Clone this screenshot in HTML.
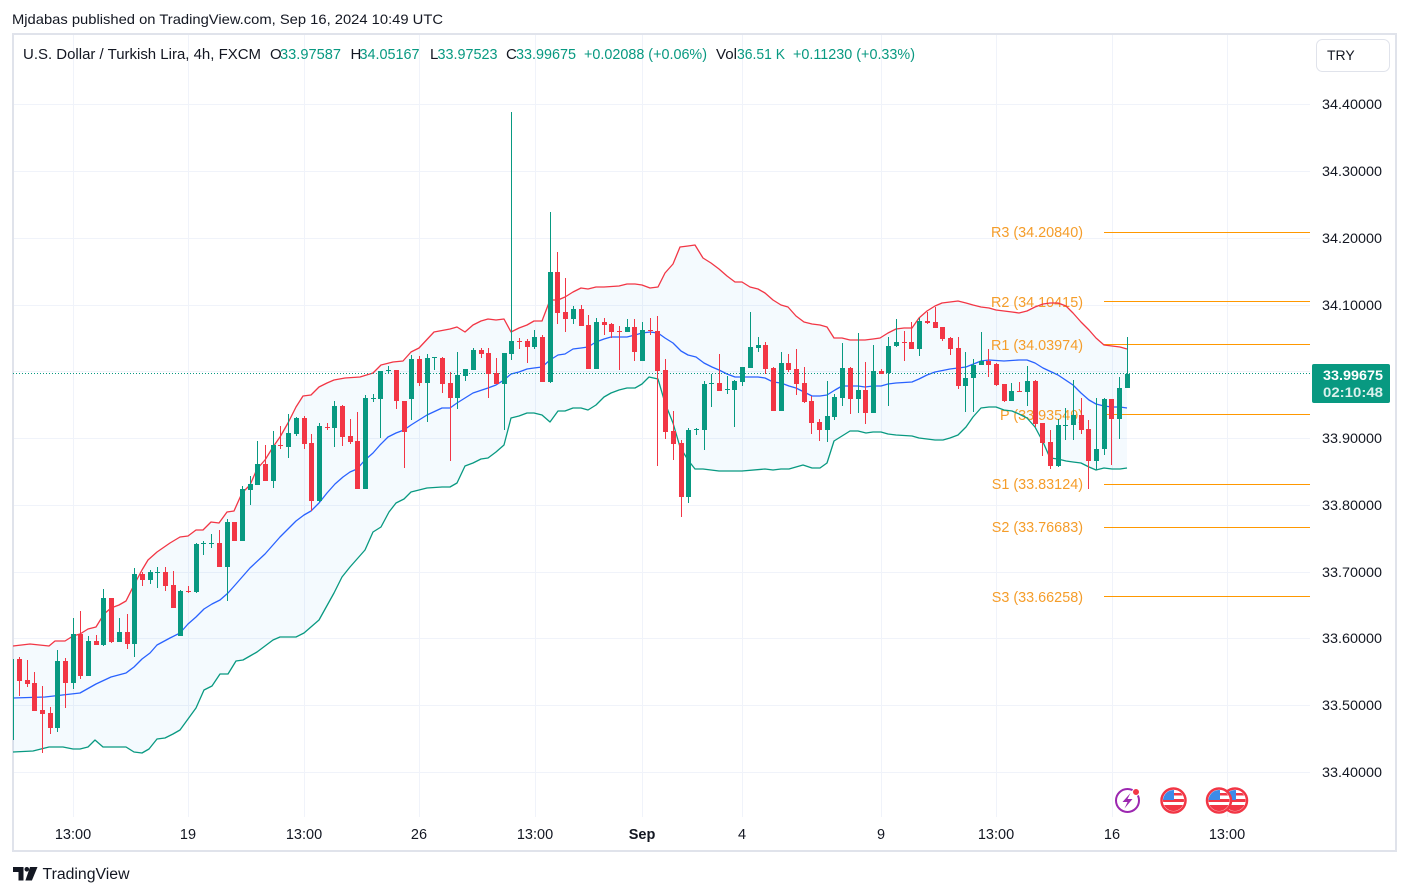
<!DOCTYPE html>
<html><head><meta charset="utf-8"><style>
html,body{margin:0;padding:0;background:#fff;}
svg{display:block;}
text{font-family:"Liberation Sans",Arial,sans-serif;}
</style></head><body>
<svg width="1409" height="896" viewBox="0 0 1409 896" xmlns="http://www.w3.org/2000/svg">
<defs>
<clipPath id="pane"><rect x="13" y="35" width="1297" height="782"/></clipPath>
<clipPath id="f1"><circle cx="1173.5" cy="800.5" r="10.5"/></clipPath>
<clipPath id="f2"><circle cx="1219" cy="800.5" r="10.5"/></clipPath>
<clipPath id="f3"><circle cx="1235" cy="800.5" r="10.5"/></clipPath>
</defs>
<rect width="1409" height="896" fill="#fff"/>

<text x="12" y="24" font-size="14" fill="#131722" textLength="431" lengthAdjust="spacingAndGlyphs">Mjdabas published on TradingView.com, Sep 16, 2024 10:49 UTC</text>

<!-- grid -->
<g stroke="#f0f3fa" stroke-width="1">
<path d="M13 104.5H1310M13 171.5H1310M13 238.5H1310M13 305.5H1310M13 371.5H1310M13 438.5H1310M13 505.5H1310M13 572.5H1310M13 638.5H1310M13 705.5H1310M13 772.5H1310"/>
<path d="M73.5 35V817M188.5 35V817M304.5 35V817M419.5 35V817M535.5 35V817M642.5 35V817M742.5 35V817M881.5 35V817M996.5 35V817M1112.5 35V817M1227.5 35V817"/>
</g>

<!-- frame -->
<rect x="13" y="34" width="1383" height="817" fill="none" stroke="#e0e3eb" stroke-width="2"/>

<!-- header -->
<g font-size="15" fill="#131722">
<text x="23" y="59" textLength="238" lengthAdjust="spacingAndGlyphs">U.S. Dollar / Turkish Lira, 4h, FXCM</text>
<text x="270" y="59">O</text>
<text x="280" y="59" fill="#089981" textLength="61" lengthAdjust="spacingAndGlyphs">33.97587</text>
<text x="350.5" y="59">H</text>
<text x="359.5" y="59" fill="#089981" textLength="60" lengthAdjust="spacingAndGlyphs">34.05167</text>
<text x="430" y="59">L</text>
<text x="437.5" y="59" fill="#089981" textLength="60" lengthAdjust="spacingAndGlyphs">33.97523</text>
<text x="506" y="59">C</text>
<text x="516" y="59" fill="#089981" textLength="60" lengthAdjust="spacingAndGlyphs">33.99675</text>
<text x="584" y="59" fill="#089981" textLength="123" lengthAdjust="spacingAndGlyphs">+0.02088 (+0.06%)</text>
<text x="716" y="59" textLength="21" lengthAdjust="spacingAndGlyphs">Vol</text>
<text x="737" y="59" fill="#089981" textLength="48" lengthAdjust="spacingAndGlyphs">36.51 K</text>
<text x="793" y="59" fill="#089981" textLength="122" lengthAdjust="spacingAndGlyphs">+0.11230 (+0.33%)</text>
</g>

<!-- TRY button -->
<rect x="1316.5" y="39.5" width="73" height="32" rx="6" fill="#fff" stroke="#e0e3eb"/>
<text x="1327" y="60" font-size="14" fill="#131722">TRY</text>

<g clip-path="url(#pane)">
<!-- band fill -->
<polygon fill="#2196f3" fill-opacity="0.05" points="13,646 30,644 49,646 55,641 65,641 73,636 80,634 88,629 96,627 104,614 111,608 119,605 126,601 134,585 142,570 148,560 157,552 170,543 180,537 188,536 196,530 203,530 211,522 219,523 227,512 234,511 242,493 250,485 257,469 265,460 273,447 280,437 288,423 296,407 303,396 311,395 319,387 327,383 334,380 345,378 360,377 373,373 381,365 393,362 403,361 411,352 419,348 434,332 450,329 457,327 465,332 473,325 481,321 488,319 496,320 504,319 511,332 519,328 527,325 534,321 542,321 550,300 558,300 565,297 573,292 581,288 588,289 596,287 604,287 619,286 627,284 635,284 642,285 650,288 658,287 665,273 673,264 680,247 688,246 695,245 703,258 711,263 719,269 727,276 735,282 742,282 750,287 758,289 765,293 773,300 781,305 788,307 796,316 804,322 812,324 820,325 827,327 834,338 842,338 850,340 858,340 865,340 873,339 880,338 888,333 896,329 904,328 912,328 919,318 927,311 935,306 942,303 950,302 958,301 966,303 973,305 981,307 989,308 996,310 1004,311 1012,312 1019,313 1027,311 1035,307 1043,304 1050,303 1058,303 1066,306 1073,313 1081,322 1089,330 1096,338 1104,345 1112,346 1120,347 1127,349 1127,468 1120,469 1112,469 1104,468 1096,470 1089,467 1081,463 1073,462 1066,461 1058,459 1050,458 1043,442 1035,427 1027,418 1019,414 1012,411 1004,410 996,407 989,407 981,408 973,417 966,427 958,435 950,438 943,440 935,440 919,438 912,436 896,435 888,434 881,432 873,432 866,433 858,431 850,431 842,436 834,441 827,463 820,468 812,468 803,465 789,469 781,469 773,470 765,469 742,471 719,471 703,469 695,469 688,460 680,447 673,423 665,403 658,379 649,377 642,384 635,388 627,388 619,390 611,393 604,397 596,405 588,410 581,408 573,408 565,411 558,411 550,422 542,415 534,413 527,413 519,416 511,418 504,445 496,452 488,458 481,459 473,463 465,466 457,483 450,487 442,487 427,488 411,492 404,499 396,503 389,512 381,527 373,532 365,550 350,567 342,577 334,593 319,620 304,633 296,637 280,637 273,640 265,646 257,652 250,656 243,660 236,661 228,674 220,674 212,686 204,690 196,708 188,719 180,730 173,734 165,738 157,739 149,749 142,753 134,752 126,747 103,747 95,740 88,747 80,749 73,749 63,747 49,747 33,751 13,752"/>

<!-- pivots -->
<g stroke="#ff9800" stroke-width="1">
<path d="M1104 232.5H1310M1104 301.5H1310M1104 344.5H1310M1104 414.5H1310M1104 484.5H1310M1104 527.5H1310M1104 596.5H1310"/>
</g>
<g font-size="14.4" fill="#f59d2a" text-anchor="end">
<text x="1083" y="237">R3 (34.20840)</text>
<text x="1083" y="307">R2 (34.10415)</text>
<text x="1083" y="350">R1 (34.03974)</text>
<text x="1083" y="420">P (33.93549)</text>
<text x="1083" y="489">S1 (33.83124)</text>
<text x="1083" y="532">S2 (33.76683)</text>
<text x="1083" y="602">S3 (33.66258)</text>
</g>

<!-- band lines -->
<polyline fill="none" stroke="#f23645" stroke-width="1.3" stroke-linejoin="round" points="13,646 30,644 49,646 55,641 65,641 73,636 80,634 88,629 96,627 104,614 111,608 119,605 126,601 134,585 142,570 148,560 157,552 170,543 180,537 188,536 196,530 203,530 211,522 219,523 227,512 234,511 242,493 250,485 257,469 265,460 273,447 280,437 288,423 296,407 303,396 311,395 319,387 327,383 334,380 345,378 360,377 373,373 381,365 393,362 403,361 411,352 419,348 434,332 450,329 457,327 465,332 473,325 481,321 488,319 496,320 504,319 511,332 519,328 527,325 534,321 542,321 550,300 558,300 565,297 573,292 581,288 588,289 596,287 604,287 619,286 627,284 635,284 642,285 650,288 658,287 665,273 673,264 680,247 688,246 695,245 703,258 711,263 719,269 727,276 735,282 742,282 750,287 758,289 765,293 773,300 781,305 788,307 796,316 804,322 812,324 820,325 827,327 834,338 842,338 850,340 858,340 865,340 873,339 880,338 888,333 896,329 904,328 912,328 919,318 927,311 935,306 942,303 950,302 958,301 966,303 973,305 981,307 989,308 996,310 1004,311 1012,312 1019,313 1027,311 1035,307 1043,304 1050,303 1058,303 1066,306 1073,313 1081,322 1089,330 1096,338 1104,345 1112,346 1120,347 1127,349"/>
<polyline fill="none" stroke="#2962ff" stroke-width="1.3" stroke-linejoin="round" points="13,698 45,697 80,693 96,684 111,677 126,673 134,667 142,659 150,653 157,645 170,638 180,633 188,624 196,617 204,609 212,604 220,600 228,593 236,584 250,568 265,554 280,537 296,521 304,515 311,511 319,503 327,493 335,484 343,477 350,472 357,469 365,460 373,453 380,445 388,437 396,433 404,430 411,425 427,415 442,408 450,408 457,403 465,398 473,393 488,388 496,385 504,380 511,374 519,372 527,369 534,368 542,367 550,360 558,355 565,354 573,349 581,348 588,347 596,342 604,339 611,337 619,337 627,337 635,335 642,333 650,332 658,333 665,338 673,343 681,351 688,355 696,357 704,363 712,367 719,370 727,374 735,377 742,377 750,377 758,377 765,378 773,382 781,383 789,386 796,388 804,392 812,396 820,396 827,395 835,390 842,386 850,386 858,386 865,387 873,386 881,386 888,384 896,383 912,382 919,379 927,375 935,372 950,369 966,367 981,361 989,360 1004,361 1019,360 1027,360 1035,363 1043,368 1058,375 1073,385 1081,393 1089,400 1096,404 1104,406 1112,407 1120,407 1127,408"/>
<polyline fill="none" stroke="#089981" stroke-width="1.3" stroke-linejoin="round" points="13,752 33,751 49,747 63,747 73,749 80,749 88,747 95,740 103,747 126,747 134,752 142,753 149,749 157,739 165,738 173,734 180,730 188,719 196,708 204,690 212,686 220,674 228,674 236,661 243,660 250,656 257,652 265,646 273,640 280,637 296,637 304,633 319,620 334,593 342,577 350,567 365,550 373,532 381,527 389,512 396,503 404,499 411,492 427,488 442,487 450,487 457,483 465,466 473,463 481,459 488,458 496,452 504,445 511,418 519,416 527,413 534,413 542,415 550,422 558,411 565,411 573,408 581,408 588,410 596,405 604,397 611,393 619,390 627,388 635,388 642,384 649,377 658,379 665,403 673,423 680,447 688,460 695,469 703,469 719,471 742,471 765,469 773,470 781,469 789,469 803,465 812,468 820,468 827,463 834,441 842,436 850,431 858,431 866,433 873,432 881,432 888,434 896,435 912,436 919,438 935,440 943,440 950,438 958,435 966,427 973,417 981,408 989,407 996,407 1004,410 1012,411 1019,414 1027,418 1035,427 1043,442 1050,458 1058,459 1066,461 1073,462 1081,463 1089,467 1096,470 1104,468 1112,469 1120,469 1127,468"/>

<!-- current price line -->
<path d="M13 373.5H1310" stroke="#089981" stroke-width="1" stroke-dasharray="1 2"/>

<!-- red candles -->
<path fill="none" stroke="#f23645" stroke-width="1" d="M19.5 657V696M27.5 660V687M34.5 672V711M42.5 686V753M50.5 707V734M65.5 658V708M80.5 611V679M96.5 635V645M111.5 598V643M127.5 614V649M142.5 572V586M165.5 567V591M173.5 571V608M188.5 586V593M219.5 530V567M234.5 522V541M265.5 445V481M280.5 426V449M304.5 416V449M311.5 434V511M327.5 423V430M342.5 405V446M350.5 419V444M357.5 412V489M396.5 370V409M404.5 401V468M419.5 356V386M442.5 357V393M450.5 372V461M481.5 348V358M488.5 348V398M496.5 358V384M519.5 338V349M527.5 339V363M542.5 335V382M557.5 252V324M565.5 278V332M581.5 305V326M588.5 315V369M604.5 318V335M611.5 323V338M619.5 326V370M634.5 319V361M650.5 318V335M657.5 316V466M665.5 359V439M673.5 411V460M681.5 440V517M719.5 354V391M765.5 342V374M773.5 367V411M788.5 354V372M796.5 349V395M804.5 367V403M811.5 396V434M819.5 419V441M850.5 367V414M865.5 362V424M881.5 369V374M904.5 331V361M911.5 322V349M927.5 312V324M935.5 307V328M942.5 327V341M950.5 337V355M958.5 337V389M988.5 349V377M996.5 363V386M1004.5 384V402M1019.5 382V392M1035.5 380V427M1042.5 423V456M1050.5 430V469M1081.5 398V434M1088.5 420V489M1111.5 399V465"/>
<path fill="#f23645" d="M17 659h5v22h-5zM25 680h5v4h-5zM32 683h5v28h-5zM40 710h5v4h-5zM48 713h5v15h-5zM63 661h5v22h-5zM78 634h5v42h-5zM94 641h5v4h-5zM109 598h5v44h-5zM125 632h5v12h-5zM140 574h5v6h-5zM163 572h5v14h-5zM171 585h5v23h-5zM186 591h5v1h-5zM217 543h5v24h-5zM232 522h5v19h-5zM263 464h5v17h-5zM278 445h5v1h-5zM302 418h5v26h-5zM309 443h5v58h-5zM325 427h5v1h-5zM340 406h5v31h-5zM348 436h5v6h-5zM355 441h5v48h-5zM394 370h5v31h-5zM402 401h5v31h-5zM417 359h5v24h-5zM440 358h5v26h-5zM448 383h5v15h-5zM479 350h5v4h-5zM486 353h5v21h-5zM494 373h5v11h-5zM517 341h5v1h-5zM525 341h5v6h-5zM540 337h5v45h-5zM555 272h5v41h-5zM563 312h5v7h-5zM579 309h5v17h-5zM586 325h5v44h-5zM602 322h5v3h-5zM609 324h5v8h-5zM617 331h5v1h-5zM632 327h5v25h-5zM648 330h5v1h-5zM655 331h5v40h-5zM663 370h5v62h-5zM671 431h5v13h-5zM679 443h5v54h-5zM717 383h5v8h-5zM763 345h5v24h-5zM771 368h5v43h-5zM786 363h5v7h-5zM794 369h5v15h-5zM802 383h5v19h-5zM809 401h5v22h-5zM817 422h5v8h-5zM848 368h5v31h-5zM863 390h5v23h-5zM879 371h5v3h-5zM902 342h5v1h-5zM909 342h5v7h-5zM925 321h5v2h-5zM933 322h5v6h-5zM940 327h5v12h-5zM948 338h5v11h-5zM956 348h5v38h-5zM986 361h5v4h-5zM994 364h5v21h-5zM1002 384h5v17h-5zM1017 391h5v1h-5zM1033 381h5v43h-5zM1040 423h5v20h-5zM1048 442h5v24h-5zM1079 415h5v15h-5zM1086 429h5v32h-5zM1109 399h5v20h-5z"/>

<!-- green candles -->
<path fill="none" stroke="#089981" stroke-width="1" d="M11.5 655V745M57.5 650V732M73.5 618V689M88.5 636V676M103.5 589V646M119.5 618V642M134.5 568V657M150.5 570V584M157.5 567V588M180.5 590V636M196.5 543V593M203.5 541V555M211.5 534V548M227.5 519V601M242.5 486V541M250.5 476V505M257.5 441V485M273.5 431V488M288.5 414V458M296.5 417V436M319.5 423V502M334.5 401V447M365.5 395V489M373.5 394V402M380.5 371V438M388.5 366V373M411.5 355V420M427.5 354V422M434.5 357V370M457.5 352V409M465.5 369V381M473.5 348V370M504.5 353V430M511.5 112V360M534.5 330V349M550.5 212V383M573.5 306V324M596.5 318V369M627.5 319V332M642.5 322V361M688.5 428V503M696.5 428V435M704.5 381V450M711.5 374V407M727.5 376V394M734.5 380V427M742.5 367V386M750.5 312V368M758.5 337V352M781.5 352V411M827.5 381V442M834.5 394V420M842.5 343V406M858.5 333V413M873.5 345V413M888.5 337V406M896.5 319V347M919.5 318V356M965.5 352V412M973.5 359V412M981.5 332V365M1011.5 383V401M1027.5 366V406M1058.5 419V467M1065.5 408V440M1073.5 380V440M1096.5 398V470M1104.5 398V455M1119.5 377V439M1127.5 337V388"/>
<path fill="#089981" d="M9 659h5v81h-5zM55 661h5v67h-5zM71 634h5v49h-5zM86 641h5v35h-5zM101 598h5v47h-5zM117 632h5v10h-5zM132 574h5v70h-5zM148 572h5v8h-5zM155 572h5v1h-5zM178 591h5v45h-5zM194 544h5v48h-5zM201 543h5v1h-5zM209 543h5v1h-5zM225 522h5v45h-5zM240 489h5v52h-5zM248 484h5v6h-5zM255 464h5v21h-5zM271 445h5v36h-5zM286 433h5v14h-5zM294 418h5v16h-5zM317 426h5v75h-5zM332 406h5v22h-5zM363 398h5v91h-5zM371 398h5v1h-5zM378 371h5v28h-5zM386 370h5v1h-5zM409 359h5v40h-5zM425 358h5v25h-5zM432 357h5v1h-5zM455 375h5v23h-5zM463 369h5v7h-5zM471 350h5v20h-5zM502 353h5v31h-5zM509 341h5v13h-5zM532 337h5v10h-5zM548 272h5v110h-5zM571 309h5v10h-5zM594 322h5v47h-5zM625 327h5v5h-5zM640 330h5v31h-5zM686 430h5v67h-5zM694 429h5v1h-5zM702 384h5v46h-5zM709 383h5v1h-5zM725 389h5v1h-5zM732 381h5v9h-5zM740 367h5v15h-5zM748 347h5v21h-5zM756 345h5v3h-5zM779 363h5v48h-5zM825 416h5v14h-5zM832 397h5v20h-5zM840 368h5v30h-5zM856 390h5v9h-5zM871 371h5v42h-5zM886 346h5v27h-5zM894 342h5v4h-5zM917 321h5v28h-5zM963 378h5v8h-5zM971 365h5v13h-5zM979 361h5v4h-5zM1009 391h5v10h-5zM1025 381h5v11h-5zM1056 425h5v41h-5zM1063 425h5v1h-5zM1071 415h5v10h-5zM1094 449h5v12h-5zM1102 399h5v50h-5zM1117 388h5v31h-5zM1125 374h5v14h-5z"/>
</g>

<!-- price axis labels -->
<g font-size="14" fill="#131722">
<text x="1322" y="109" textLength="60" lengthAdjust="spacingAndGlyphs">34.40000</text>
<text x="1322" y="176" textLength="60" lengthAdjust="spacingAndGlyphs">34.30000</text>
<text x="1322" y="243" textLength="60" lengthAdjust="spacingAndGlyphs">34.20000</text>
<text x="1322" y="310" textLength="60" lengthAdjust="spacingAndGlyphs">34.10000</text>
<text x="1322" y="443" textLength="60" lengthAdjust="spacingAndGlyphs">33.90000</text>
<text x="1322" y="510" textLength="60" lengthAdjust="spacingAndGlyphs">33.80000</text>
<text x="1322" y="577" textLength="60" lengthAdjust="spacingAndGlyphs">33.70000</text>
<text x="1322" y="643" textLength="60" lengthAdjust="spacingAndGlyphs">33.60000</text>
<text x="1322" y="710" textLength="60" lengthAdjust="spacingAndGlyphs">33.50000</text>
<text x="1322" y="777" textLength="60" lengthAdjust="spacingAndGlyphs">33.40000</text>
</g>

<!-- current price label -->
<rect x="1312" y="364" width="78" height="39" rx="2" fill="#089981"/>
<text x="1323" y="380" font-size="14" font-weight="bold" fill="#fff" textLength="60" lengthAdjust="spacingAndGlyphs">33.99675</text>
<text x="1323" y="397" font-size="14" font-weight="bold" fill="#fff" fill-opacity="0.85" textLength="60" lengthAdjust="spacingAndGlyphs">02:10:48</text>

<!-- time axis -->
<g font-size="14.5" fill="#131722" text-anchor="middle">
<text x="73" y="839">13:00</text>
<text x="188" y="839">19</text>
<text x="304" y="839">13:00</text>
<text x="419" y="839">26</text>
<text x="535" y="839">13:00</text>
<text x="642" y="839" font-weight="bold">Sep</text>
<text x="742" y="839">4</text>
<text x="881" y="839">9</text>
<text x="996" y="839">13:00</text>
<text x="1112" y="839">16</text>
<text x="1227" y="839">13:00</text>
</g>

<!-- event icons -->
<circle cx="1127.5" cy="800.5" r="11.5" fill="#fff" stroke="#9c27b0" stroke-width="2"/>
<path d="M1130.5 793L1122.5 802H1127.5L1124.5 808.5L1132.5 799H1127.5Z" fill="#9c27b0"/>
<circle cx="1136" cy="792" r="3.5" fill="#f23645" stroke="#fff" stroke-width="1"/>

<g>
<circle cx="1235" cy="800.5" r="12" fill="#fff" stroke="#f23645" stroke-width="2.5"/>
<g clip-path="url(#f3)"><rect x="1222" y="799" width="26" height="3" fill="#f23645"/><rect x="1222" y="805" width="26" height="6" fill="#f23645"/><rect x="1235" y="793" width="13" height="2.5" fill="#f23645"/><rect x="1224" y="790" width="12" height="10" fill="#3d8be8"/></g>
<circle cx="1219" cy="800.5" r="12" fill="#fff" stroke="#f23645" stroke-width="2.5"/>
<g clip-path="url(#f2)"><rect x="1206" y="799" width="26" height="3" fill="#f23645"/><rect x="1206" y="805" width="26" height="6" fill="#f23645"/><rect x="1219" y="793" width="13" height="2.5" fill="#f23645"/><rect x="1208" y="790" width="12" height="10" fill="#3d8be8"/></g>
<circle cx="1173.5" cy="800.5" r="12" fill="#fff" stroke="#f23645" stroke-width="2.5"/>
<g clip-path="url(#f1)"><rect x="1160" y="799" width="26" height="3" fill="#f23645"/><rect x="1160" y="805" width="26" height="6" fill="#f23645"/><rect x="1173.5" y="793" width="13" height="2.5" fill="#f23645"/><rect x="1162" y="790" width="12" height="10" fill="#3d8be8"/></g>
</g>

<!-- footer logo -->
<path d="M13 867h10.5v13.5h-5v-8.5h-5.5z" fill="#131722"/>
<circle cx="26.8" cy="869.3" r="2.3" fill="#131722"/>
<path d="M30 867h7.5l-5.6 13.5h-6.5z" fill="#131722"/>
<text x="42.5" y="879" font-size="15.5" fill="#131722" textLength="87" lengthAdjust="spacingAndGlyphs">TradingView</text>
</svg>
</body></html>
